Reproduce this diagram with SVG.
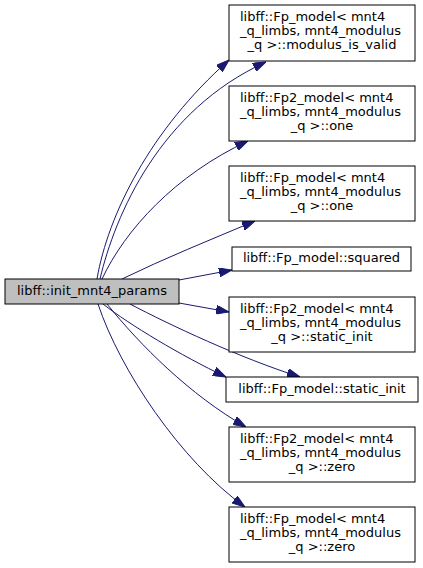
<svg xmlns="http://www.w3.org/2000/svg" width="423" height="568" viewBox="0 0 423 568">
<defs>
<marker id="ah" markerUnits="userSpaceOnUse" markerWidth="13" markerHeight="9" refX="13" refY="4.5" orient="auto">
<path d="M0,0 L13,4.5 L0,9 z" fill="#191970" stroke="#191970" stroke-width="1"/>
</marker>
<style>
.box{fill:#ffffff;stroke:#000000;stroke-width:1}
.main{fill:#bfbfbf;stroke:#000000;stroke-width:1}
text{font-family:"DejaVu Sans","Liberation Sans",sans-serif;font-size:13px;fill:#000000}
.c{text-anchor:middle}
.e{fill:none;stroke:#191970;stroke-width:1;marker-end:url(#ah)}
</style>
</defs>
<rect width="423" height="568" fill="#ffffff"/>
<g id="edges">
<path class="e" d="M97,279 C108,215 150,130 229,60"/>
<path class="e" d="M100,279 C115,215 160,110 266,62"/>
<path class="e" d="M102,279 C125,230 175,175 248,141"/>
<path class="e" d="M122,279 C165,258 210,240 255,221"/>
<path class="e" d="M179,280 L232,270"/>
<path class="e" d="M179,303 L229,312"/>
<path class="e" d="M130,304 C170,325 240,358 300,377"/>
<path class="e" d="M103,304 C130,325 180,355 226,377"/>
<path class="e" d="M107,304 C140,345 190,395 246,427"/>
<path class="e" d="M98,304 C120,370 180,460 245,507"/>
</g>
<g id="node_main">
<rect class="main" x="5" y="279" width="174" height="25"/>
<text class="c" x="92" y="295">libff::init_mnt4_params</text>
</g>
<g id="node_modulus_is_valid">
<rect class="box" x="229" y="5" width="186" height="56"/>
<text x="240" y="21">libff::Fp_model&lt; mnt4</text>
<text x="240" y="35">_q_limbs, mnt4_modulus</text>
<text class="c" x="322" y="49">_q &gt;::modulus_is_valid</text>
</g>
<g id="node_fp2_one">
<rect class="box" x="229" y="86" width="186" height="55"/>
<text x="240" y="102">libff::Fp2_model&lt; mnt4</text>
<text x="240" y="116">_q_limbs, mnt4_modulus</text>
<text class="c" x="322" y="130">_q &gt;::one</text>
</g>
<g id="node_fp_one">
<rect class="box" x="229" y="166" width="186" height="55"/>
<text x="240" y="182">libff::Fp_model&lt; mnt4</text>
<text x="240" y="196">_q_limbs, mnt4_modulus</text>
<text class="c" x="322" y="210">_q &gt;::one</text>
</g>
<g id="node_squared">
<rect class="box" x="232" y="247" width="179" height="24"/>
<text class="c" x="321.5" y="262">libff::Fp_model::squared</text>
</g>
<g id="node_fp2_static_init">
<rect class="box" x="229" y="297" width="186" height="55"/>
<text x="240" y="313">libff::Fp2_model&lt; mnt4</text>
<text x="240" y="327">_q_limbs, mnt4_modulus</text>
<text class="c" x="322" y="341">_q &gt;::static_init</text>
</g>
<g id="node_fp_static_init">
<rect class="box" x="226" y="377" width="192" height="25"/>
<text class="c" x="322" y="393">libff::Fp_model::static_init</text>
</g>
<g id="node_fp2_zero">
<rect class="box" x="229" y="427" width="186" height="55"/>
<text x="240" y="443">libff::Fp2_model&lt; mnt4</text>
<text x="240" y="457">_q_limbs, mnt4_modulus</text>
<text class="c" x="322" y="471">_q &gt;::zero</text>
</g>
<g id="node_fp_zero">
<rect class="box" x="229" y="507" width="186" height="55"/>
<text x="240" y="523">libff::Fp_model&lt; mnt4</text>
<text x="240" y="537">_q_limbs, mnt4_modulus</text>
<text class="c" x="322" y="551">_q &gt;::zero</text>
</g>
</svg>
